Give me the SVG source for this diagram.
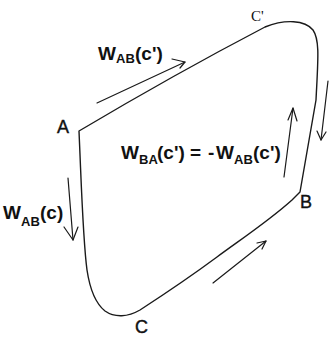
<svg xmlns="http://www.w3.org/2000/svg" width="329" height="338" viewBox="0 0 329 338">
<style>
.curve{fill:none;stroke:#1a1a1a;stroke-width:1.4;stroke-linejoin:round}
.arr{fill:none;stroke:#1a1a1a;stroke-width:1.2;stroke-linecap:round;stroke-linejoin:round}
.pt{font-family:"Liberation Sans",Arial,sans-serif;font-size:18px;fill:#111;stroke:#111;stroke-width:0.4}
.ps{font-family:"Liberation Serif","Times New Roman",serif;font-size:15px;fill:#111}
.w{font-family:"Liberation Sans",Arial,sans-serif;font-weight:bold;font-size:19px;fill:#111}
.sub{font-family:"Liberation Sans",Arial,sans-serif;font-weight:bold;font-size:13px;fill:#111}
</style>
<rect width="329" height="338" fill="#fff"/>
<g id="loop">
<path class="curve" d="M 79,131 Q 175,74 265,27 C 285,19 305,20 313,30 C 320,40 318,60 316,100 L 300,192 L 292,200 C 270,220 240,240 217,257 C 190,277 160,297 140,310 C 128,317 115,318 105,311 C 95,303 90,290 87,270 C 83,240 82,200 79,131 Z"/>
</g>
<g id="connectors">
<polyline class="arr" points="97,103 185,62"/>
<polyline class="arr" points="172,59 185,62 180,68"/>
<polyline class="arr" points="68,178 73,240"/>
<polyline class="arr" points="64,227 73,240 78,227"/>
<polyline class="arr" points="328,81 321,140"/>
<polyline class="arr" points="317,131 321,140 326,132"/>
<polyline class="arr" points="284,177 293,108"/>
<polyline class="arr" points="288,120 293,108 297,121"/>
<polyline class="arr" points="213,283 266,241"/>
<polyline class="arr" points="257,243 266,241 262,249"/>
</g>
<g id="node-A"><text class="pt" x="57" y="133">A</text></g>
<g id="node-B"><text class="pt" x="300" y="208">B</text></g>
<g id="node-C"><text class="pt" x="135" y="333">C</text></g>
<g id="node-Cprime"><text class="ps" x="251" y="21">C'</text></g>
<g id="label-top">
<text class="w" x="98" y="60">W</text>
<text class="sub" x="116" y="63">AB</text>
<text class="w" x="135" y="60">(c')</text>
</g>
<g id="label-left">
<text class="w" x="3" y="219">W</text>
<text class="sub" x="21" y="226">AB</text>
<text class="w" x="40" y="219">(c)</text>
</g>
<g id="label-mid">
<text class="w" x="121" y="159">W</text>
<text class="sub" x="139" y="164">BA</text>
<text class="w" x="157" y="159">(c') =</text>
<text class="w" x="208" y="159">-</text>
<text class="w" x="216" y="159">W</text>
<text class="sub" x="234" y="164">AB</text>
<text class="w" x="253" y="159">(c')</text>
</g>
</svg>
